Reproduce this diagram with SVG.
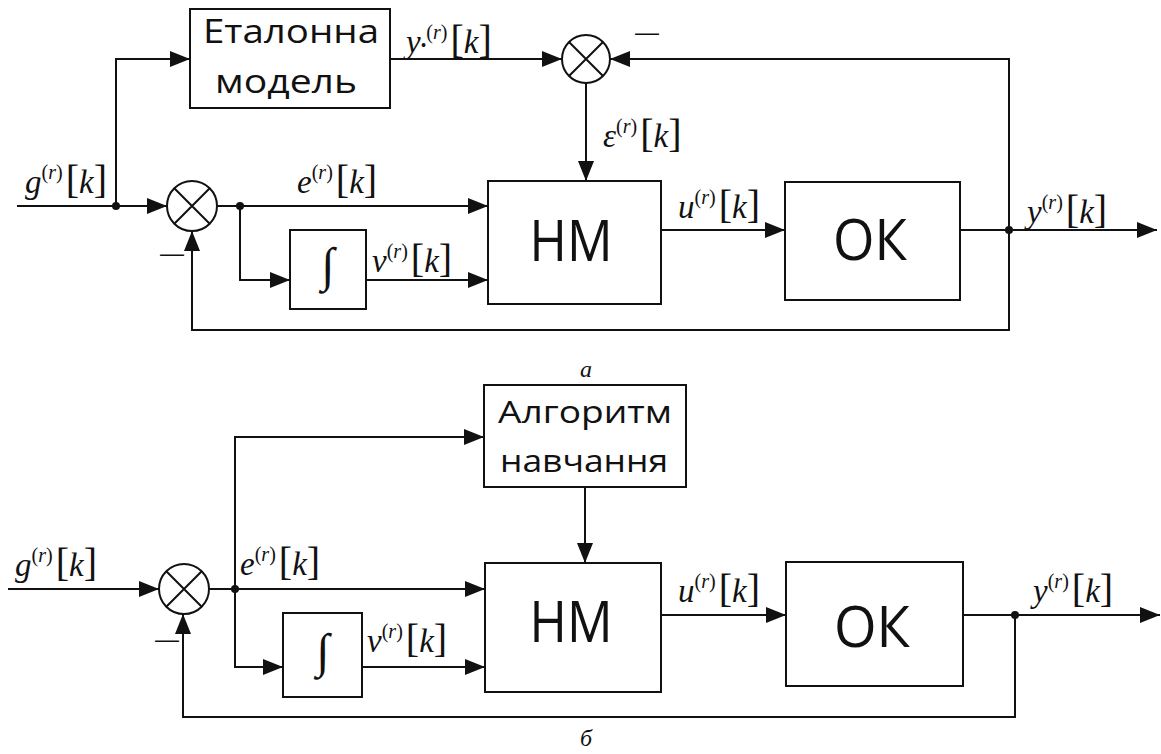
<svg xmlns="http://www.w3.org/2000/svg" width="1161" height="754" viewBox="0 0 1161 754">
<style>
.box{fill:#fff;stroke:#111;stroke-width:2}
.ln{fill:none;stroke:#111;stroke-width:2}
.arr{fill:none;stroke:#111;stroke-width:2;marker-end:url(#ah)}
.dot{fill:#111}
.t{font-family:"Open Sans","Liberation Sans",sans-serif;fill:#111;text-anchor:middle}
.m{font-family:"Liberation Serif","Times New Roman",serif;font-size:33px;fill:#111}
.i{font-style:italic}
.s{font-size:20px}
.b{font-size:40px}
.cap{font-family:"Liberation Serif",serif;font-style:italic;font-size:24px;fill:#111;text-anchor:middle}
.mn{font-family:"Liberation Sans",sans-serif;font-size:24px;fill:#111}
.int{font-family:"Liberation Serif",serif;font-size:48px;fill:#111;text-anchor:middle}
</style>
<defs>
<marker id="ah" markerUnits="userSpaceOnUse" markerWidth="20" markerHeight="16" refX="20" refY="8" orient="auto">
<path d="M0,0 L20,8 L0,16 Z" fill="#111"/>
</marker>
</defs>
<rect width="1161" height="754" fill="#fff"/>

<g id="connectors">
<line class="arr" x1="17" y1="206" x2="167" y2="206"/>
<polyline class="arr" points="116,206 116,59 190,59"/>
<line class="arr" x1="390" y1="59" x2="562" y2="59"/>
<polyline class="arr" points="1009,230 1009,59 610,59"/>
<line class="arr" x1="586" y1="83" x2="586" y2="181"/>
<line class="arr" x1="217" y1="206" x2="488" y2="206"/>
<polyline class="arr" points="240,206 240,280 290,280"/>
<line class="arr" x1="366" y1="280" x2="488" y2="280"/>
<line class="arr" x1="661" y1="230" x2="785" y2="230"/>
<line class="arr" x1="960" y1="230" x2="1157" y2="230"/>
<polyline class="arr" points="1009,230 1009,330 192,330 192,231"/>
<circle class="dot" cx="116" cy="206" r="4"/>
<circle class="dot" cx="240" cy="206" r="4"/>
<circle class="dot" cx="1009" cy="230" r="4"/>
<line class="arr" x1="8" y1="589" x2="159" y2="589"/>
<line class="arr" x1="209" y1="589" x2="485" y2="589"/>
<polyline class="arr" points="235,589 235,437 484,437"/>
<polyline class="arr" points="235,589 235,667 283,667"/>
<line class="arr" x1="362" y1="667" x2="485" y2="667"/>
<line class="arr" x1="585" y1="487" x2="585" y2="563"/>
<line class="arr" x1="661" y1="615" x2="786" y2="615"/>
<line class="arr" x1="963" y1="615" x2="1160" y2="615"/>
<polyline class="arr" points="1015,615 1015,717 183,717 183,614"/>
<circle class="dot" cx="235" cy="589" r="4"/>
<circle class="dot" cx="1015" cy="615" r="4"/>
</g>

<g id="etalon">
<rect class="box" x="190" y="9" width="200" height="99"/>
<text class="t" x="291" y="43" font-size="33" textLength="176" lengthAdjust="spacingAndGlyphs">Еталонна</text>
<text class="t" x="286" y="93" font-size="33" textLength="142" lengthAdjust="spacingAndGlyphs">модель</text>
</g>
<g id="sum2">
<circle class="box" cx="586" cy="59" r="24"/>
<path class="ln" d="M569,42 L603,76 M603,42 L569,76"/>
<text class="mn" x="635" y="40">—</text>
</g>
<g id="sum1">
<circle class="box" cx="192" cy="206" r="25"/>
<path class="ln" d="M174.3,188.3 L209.7,223.7 M209.7,188.3 L174.3,223.7"/>
<text class="mn" x="160" y="261">—</text>
</g>
<g id="integ1">
<rect class="box" x="290" y="230" width="76" height="79"/>
<text class="int" x="328" y="281">∫</text>
</g>
<g id="nm1">
<rect class="box" x="488" y="181" width="173" height="123"/>
<text class="t" x="571" y="261" font-size="57" textLength="83" lengthAdjust="spacingAndGlyphs">НМ</text>
</g>
<g id="ok1">
<rect class="box" x="785" y="182" width="175" height="118"/>
<text class="t" x="870" y="260" font-size="57" textLength="74" lengthAdjust="spacingAndGlyphs">ОК</text>
</g>
<g id="labels-a">
<text class="m" x="25" y="193"><tspan class="i">g</tspan><tspan class="s" dy="-14">(<tspan class="i">r</tspan>)</tspan><tspan class="b" dx="3" dy="14">[</tspan><tspan class="i">k</tspan><tspan class="b">]</tspan></text>
<text class="m" x="297" y="193"><tspan class="i">e</tspan><tspan class="s" dy="-14">(<tspan class="i">r</tspan>)</tspan><tspan class="b" dx="3" dy="14">[</tspan><tspan class="i">k</tspan><tspan class="b">]</tspan></text>
<text class="m" x="372" y="272"><tspan class="i">ν</tspan><tspan class="s" dy="-14">(<tspan class="i">r</tspan>)</tspan><tspan class="b" dx="3" dy="14">[</tspan><tspan class="i">k</tspan><tspan class="b">]</tspan></text>
<text class="m" x="406" y="53"><tspan class="i">y</tspan><tspan style="font-size:16px" dy="-2">•</tspan><tspan class="s" dy="-12">(<tspan class="i">r</tspan>)</tspan><tspan class="b" dx="3" dy="14">[</tspan><tspan class="i">k</tspan><tspan class="b">]</tspan></text>
<text class="m" x="603" y="147"><tspan class="i">ε</tspan><tspan class="s" dy="-14">(<tspan class="i">r</tspan>)</tspan><tspan class="b" dx="3" dy="14">[</tspan><tspan class="i">k</tspan><tspan class="b">]</tspan></text>
<text class="m" x="678" y="218"><tspan class="i">u</tspan><tspan class="s" dy="-14">(<tspan class="i">r</tspan>)</tspan><tspan class="b" dx="3" dy="14">[</tspan><tspan class="i">k</tspan><tspan class="b">]</tspan></text>
<text class="m" x="1027" y="223"><tspan class="i">y</tspan><tspan class="s" dy="-14">(<tspan class="i">r</tspan>)</tspan><tspan class="b" dx="3" dy="14">[</tspan><tspan class="i">k</tspan><tspan class="b">]</tspan></text>
<text class="cap" x="586" y="377">a</text>
</g>

<g id="algo">
<rect class="box" x="484" y="385" width="202" height="102"/>
<text class="t" x="585" y="423" font-size="31" textLength="174" lengthAdjust="spacingAndGlyphs">Алгоритм</text>
<text class="t" x="584" y="472" font-size="31" textLength="168" lengthAdjust="spacingAndGlyphs">навчання</text>
</g>
<g id="sum1b">
<circle class="box" cx="184" cy="589" r="25"/>
<path class="ln" d="M166.3,571.3 L201.7,606.7 M201.7,571.3 L166.3,606.7"/>
<text class="mn" x="155" y="647">—</text>
</g>
<g id="integ2">
<rect class="box" x="283" y="613" width="79" height="84"/>
<text class="int" x="323" y="667">∫</text>
</g>
<g id="nm2">
<rect class="box" x="485" y="563" width="176" height="129"/>
<text class="t" x="571" y="642" font-size="57" textLength="83" lengthAdjust="spacingAndGlyphs">НМ</text>
</g>
<g id="ok2">
<rect class="box" x="786" y="562" width="177" height="124"/>
<text class="t" x="872" y="647" font-size="57" textLength="76" lengthAdjust="spacingAndGlyphs">ОК</text>
</g>
<g id="labels-b">
<text class="m" x="15" y="576"><tspan class="i">g</tspan><tspan class="s" dy="-14">(<tspan class="i">r</tspan>)</tspan><tspan class="b" dx="3" dy="14">[</tspan><tspan class="i">k</tspan><tspan class="b">]</tspan></text>
<text class="m" x="240" y="575"><tspan class="i">e</tspan><tspan class="s" dy="-14">(<tspan class="i">r</tspan>)</tspan><tspan class="b" dx="3" dy="14">[</tspan><tspan class="i">k</tspan><tspan class="b">]</tspan></text>
<text class="m" x="367" y="652"><tspan class="i">ν</tspan><tspan class="s" dy="-14">(<tspan class="i">r</tspan>)</tspan><tspan class="b" dx="3" dy="14">[</tspan><tspan class="i">k</tspan><tspan class="b">]</tspan></text>
<text class="m" x="678" y="602"><tspan class="i">u</tspan><tspan class="s" dy="-14">(<tspan class="i">r</tspan>)</tspan><tspan class="b" dx="3" dy="14">[</tspan><tspan class="i">k</tspan><tspan class="b">]</tspan></text>
<text class="m" x="1033" y="602"><tspan class="i">y</tspan><tspan class="s" dy="-14">(<tspan class="i">r</tspan>)</tspan><tspan class="b" dx="3" dy="14">[</tspan><tspan class="i">k</tspan><tspan class="b">]</tspan></text>
<text class="cap" x="586" y="746">б</text>
</g>
</svg>
